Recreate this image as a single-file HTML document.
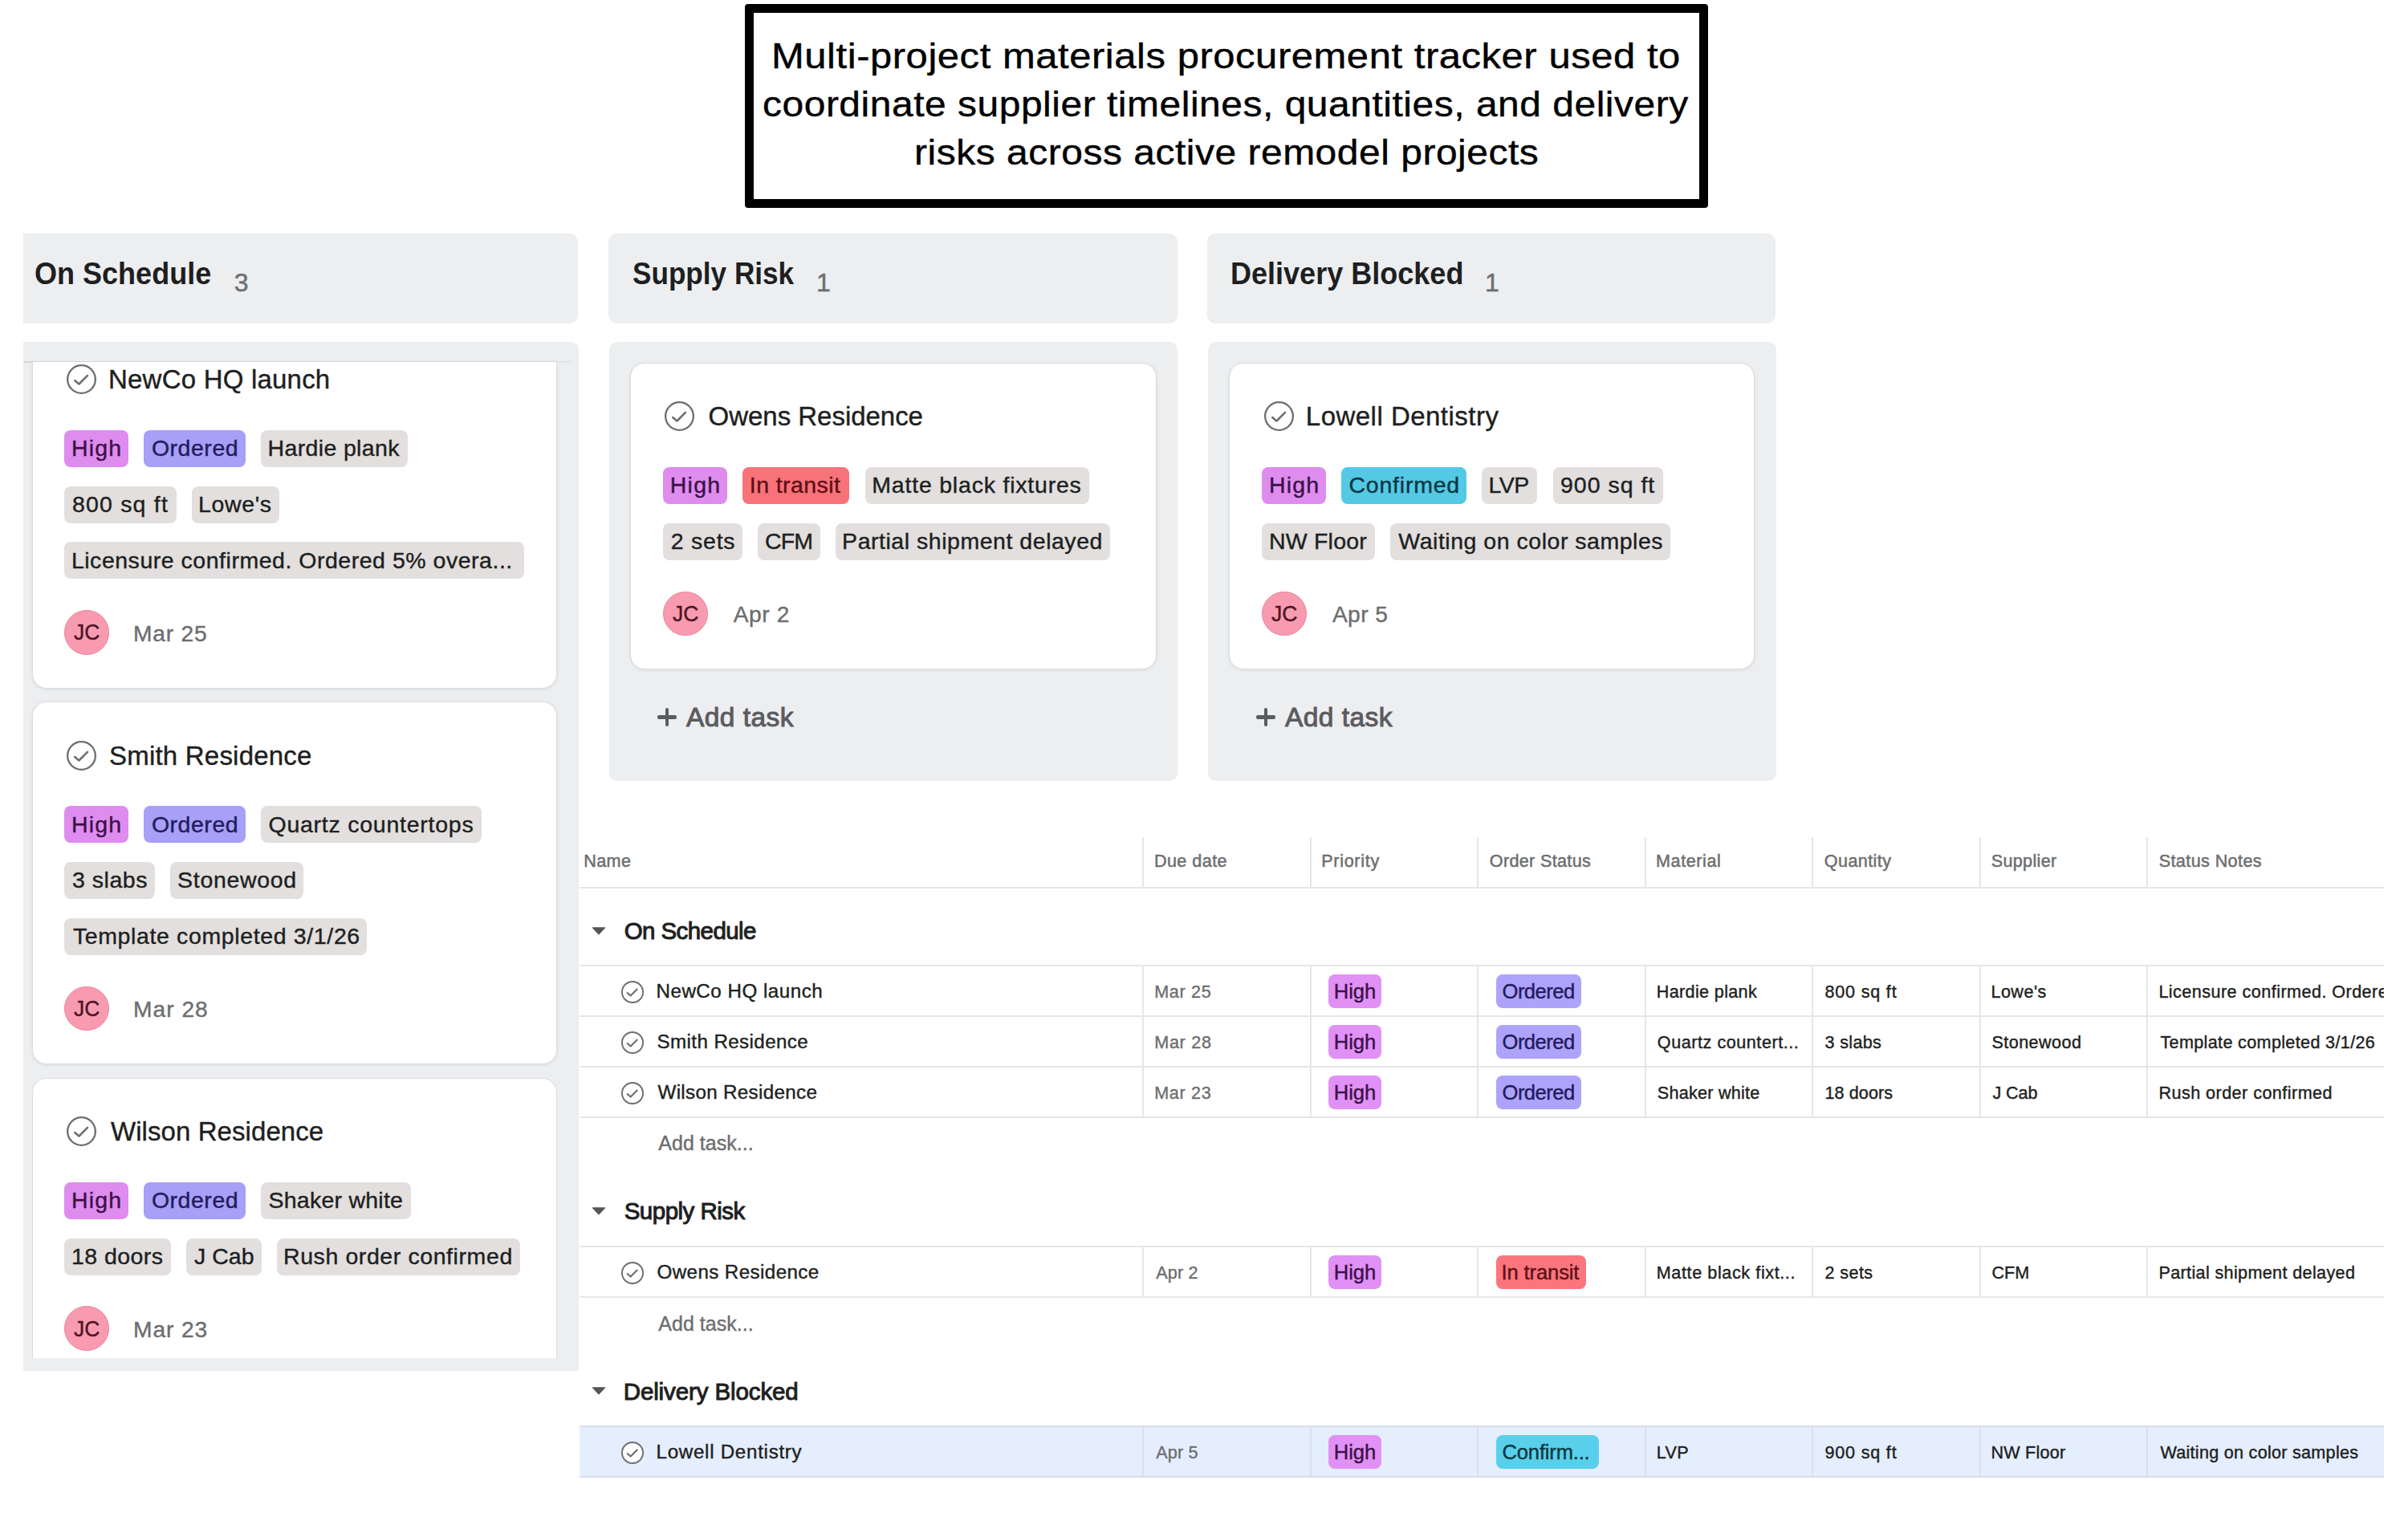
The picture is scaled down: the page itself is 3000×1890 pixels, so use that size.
<!DOCTYPE html>
<html><head><meta charset="utf-8"><title>Materials procurement tracker</title>
<style>
html,body{margin:0;padding:0;background:#fff;}
body{width:3000px;height:1890px;position:relative;overflow:hidden;font-family:'Liberation Sans',sans-serif;}
div,svg{font-family:'Liberation Sans',sans-serif;}
</style></head><body>
<div style="position:absolute;left:928px;top:4.9px;width:1200px;height:254.2px;box-sizing:border-box;border:11px solid #000;border-radius:4px;background:#fff"></div>
<div style="position:absolute;left:961.0px;top:48.1px;font-size:44.3px;line-height:44.3px;font-weight:400;color:#000;letter-spacing:0.50px;white-space:pre;transform:scaleX(1.1052);transform-origin:0 0;-webkit-text-stroke:0.4px #000;">Multi-project materials procurement tracker used to</div>
<div style="position:absolute;left:950.1px;top:107.8px;font-size:44.3px;line-height:44.3px;font-weight:400;color:#000;letter-spacing:0.50px;white-space:pre;transform:scaleX(1.0817);transform-origin:0 0;-webkit-text-stroke:0.4px #000;">coordinate supplier timelines, quantities, and delivery</div>
<div style="position:absolute;left:1139.0px;top:167.8px;font-size:44.3px;line-height:44.3px;font-weight:400;color:#000;letter-spacing:0.50px;white-space:pre;transform:scaleX(1.0816);transform-origin:0 0;-webkit-text-stroke:0.4px #000;">risks across active remodel projects</div>
<div style="position:absolute;left:29px;top:291px;width:691.0px;height:112px;background:#edeef0;border-radius:0 10px 10px 0"></div>
<div style="position:absolute;left:43.4px;top:320.6px;font-size:39px;line-height:39px;font-weight:700;color:#1e1f21;letter-spacing:0.00px;white-space:pre;transform:scaleX(0.9237);transform-origin:0 0;">On Schedule</div>
<div style="position:absolute;left:291.8px;top:335.8px;font-size:32px;line-height:32px;font-weight:400;color:#6d6e6f;letter-spacing:0.00px;white-space:pre;-webkit-text-stroke:0.5px #6d6e6f;">3</div>
<div style="position:absolute;left:29px;top:426px;width:692.0px;height:1281.5px;background:#edeef0;border-radius:0 10px 0 0"></div>
<div style="position:absolute;left:29.0px;top:450.0px;width:665.0px;height:1.6px;background:#d8d9db;border-radius:0px;"></div>
<div style="position:absolute;left:694.0px;top:450.0px;width:17.0px;height:1.6px;background:#e3e4e6;border-radius:0px;"></div>
<div style="position:absolute;left:39.8px;width:654.1px;box-sizing:border-box;background:#fff;border:1.5px solid #dcdcde;border-top:none;top:451px;height:406.79999999999995px;border-radius:0px 0px 18px 18px;box-shadow:0 1px 4px rgba(0,0,0,0.08);"></div>
<svg style="position:absolute;left:81.7px;top:453.1px" width="39.0" height="39.0" viewBox="-19.50 -19.50 39.00 39.00"><circle cx="0" cy="0" r="17.35" fill="#fff" stroke="#6d6e6f" stroke-width="2.3"/><path d="M-8.30 1.50 L-3.10 6.00 L7.50 -4.70" fill="none" stroke="#6d6e6f" stroke-width="2.53" stroke-linecap="round" stroke-linejoin="round"/></svg>
<div style="position:absolute;left:135.0px;top:456.2px;font-size:33px;line-height:33px;font-weight:400;color:#1e1f21;letter-spacing:0.21px;white-space:pre;-webkit-text-stroke:0.4px #1e1f21;">NewCo HQ launch</div>
<div style="position:absolute;left:80.4px;top:535.8px;width:79.6px;height:46.0px;background:#df8cef;border-radius:8px"></div>
<div style="position:absolute;left:88.9px;top:544.1px;font-size:28.5px;line-height:28.5px;font-weight:400;color:#3b1246;letter-spacing:1.20px;white-space:pre;-webkit-text-stroke:0.4px #3b1246;">High</div>
<div style="position:absolute;left:179.4px;top:535.8px;width:126.2px;height:46.0px;background:#a89ff7;border-radius:8px"></div>
<div style="position:absolute;left:188.9px;top:544.1px;font-size:28.5px;line-height:28.5px;font-weight:400;color:#221c5c;letter-spacing:0.53px;white-space:pre;-webkit-text-stroke:0.4px #221c5c;">Ordered</div>
<div style="position:absolute;left:325.0px;top:535.8px;width:183.0px;height:46.0px;background:#e2dfde;border-radius:8px"></div>
<div style="position:absolute;left:333.5px;top:544.1px;font-size:28.5px;line-height:28.5px;font-weight:400;color:#1e1f21;letter-spacing:0.36px;white-space:pre;-webkit-text-stroke:0.4px #1e1f21;">Hardie plank</div>
<div style="position:absolute;left:80.4px;top:605.6px;width:139.6px;height:46.0px;background:#e2dfde;border-radius:8px"></div>
<div style="position:absolute;left:89.9px;top:613.9px;font-size:28.5px;line-height:28.5px;font-weight:400;color:#1e1f21;letter-spacing:1.20px;white-space:pre;-webkit-text-stroke:0.4px #1e1f21;">800 sq ft</div>
<div style="position:absolute;left:238.5px;top:605.6px;width:109.3px;height:46.0px;background:#e2dfde;border-radius:8px"></div>
<div style="position:absolute;left:247.0px;top:613.9px;font-size:28.5px;line-height:28.5px;font-weight:400;color:#1e1f21;letter-spacing:0.66px;white-space:pre;-webkit-text-stroke:0.4px #1e1f21;">Lowe's</div>
<div style="position:absolute;left:80.4px;top:675.4px;width:572.6px;height:46.0px;background:#e2dfde;border-radius:8px"></div>
<div style="position:absolute;left:88.9px;top:683.7px;font-size:28.5px;line-height:28.5px;font-weight:400;color:#1e1f21;letter-spacing:0.52px;white-space:pre;-webkit-text-stroke:0.4px #1e1f21;">Licensure confirmed. Ordered 5% overa...</div>
<div style="position:absolute;left:80.4px;top:760.2px;width:55.5px;height:55.5px;box-sizing:border-box;background:#f99bb0;border:1.5px solid #e8839b;border-radius:50%"></div>
<div style="position:absolute;left:92.0px;top:773.4px;font-size:28.5px;line-height:28.5px;font-weight:400;color:#4b1624;letter-spacing:0.00px;white-space:pre;transform:scaleX(0.9294);transform-origin:0 0;-webkit-text-stroke:0.4px #4b1624;">JC</div>
<div style="position:absolute;left:166.1px;top:774.6px;font-size:28.2px;line-height:28.2px;font-weight:400;color:#6d6e6f;letter-spacing:0.78px;white-space:pre;-webkit-text-stroke:0.4px #6d6e6f;">Mar 25</div>
<div style="position:absolute;left:39.8px;width:654.1px;box-sizing:border-box;background:#fff;border:1.5px solid #dcdcde;top:874px;height:452.10000000000014px;border-radius:18px 18px 18px 18px;box-shadow:0 1px 4px rgba(0,0,0,0.08);"></div>
<svg style="position:absolute;left:81.7px;top:921.6px" width="39.0" height="39.0" viewBox="-19.50 -19.50 39.00 39.00"><circle cx="0" cy="0" r="17.35" fill="#fff" stroke="#6d6e6f" stroke-width="2.3"/><path d="M-8.30 1.50 L-3.10 6.00 L7.50 -4.70" fill="none" stroke="#6d6e6f" stroke-width="2.53" stroke-linecap="round" stroke-linejoin="round"/></svg>
<div style="position:absolute;left:136.0px;top:924.7px;font-size:33px;line-height:33px;font-weight:400;color:#1e1f21;letter-spacing:0.21px;white-space:pre;-webkit-text-stroke:0.4px #1e1f21;">Smith Residence</div>
<div style="position:absolute;left:80.4px;top:1004.3px;width:79.6px;height:46.0px;background:#df8cef;border-radius:8px"></div>
<div style="position:absolute;left:88.9px;top:1012.6px;font-size:28.5px;line-height:28.5px;font-weight:400;color:#3b1246;letter-spacing:1.20px;white-space:pre;-webkit-text-stroke:0.4px #3b1246;">High</div>
<div style="position:absolute;left:179.4px;top:1004.3px;width:126.2px;height:46.0px;background:#a89ff7;border-radius:8px"></div>
<div style="position:absolute;left:188.9px;top:1012.6px;font-size:28.5px;line-height:28.5px;font-weight:400;color:#221c5c;letter-spacing:0.53px;white-space:pre;-webkit-text-stroke:0.4px #221c5c;">Ordered</div>
<div style="position:absolute;left:325.0px;top:1004.3px;width:274.7px;height:46.0px;background:#e2dfde;border-radius:8px"></div>
<div style="position:absolute;left:334.5px;top:1012.6px;font-size:28.5px;line-height:28.5px;font-weight:400;color:#1e1f21;letter-spacing:0.75px;white-space:pre;-webkit-text-stroke:0.4px #1e1f21;">Quartz countertops</div>
<div style="position:absolute;left:80.4px;top:1074.1px;width:112.3px;height:46.0px;background:#e2dfde;border-radius:8px"></div>
<div style="position:absolute;left:89.9px;top:1082.4px;font-size:28.5px;line-height:28.5px;font-weight:400;color:#1e1f21;letter-spacing:0.55px;white-space:pre;-webkit-text-stroke:0.4px #1e1f21;">3 slabs</div>
<div style="position:absolute;left:211.6px;top:1074.1px;width:166.4px;height:46.0px;background:#e2dfde;border-radius:8px"></div>
<div style="position:absolute;left:221.1px;top:1082.4px;font-size:28.5px;line-height:28.5px;font-weight:400;color:#1e1f21;letter-spacing:0.68px;white-space:pre;-webkit-text-stroke:0.4px #1e1f21;">Stonewood</div>
<div style="position:absolute;left:80.4px;top:1143.9px;width:377.1px;height:46.0px;background:#e2dfde;border-radius:8px"></div>
<div style="position:absolute;left:90.9px;top:1152.2px;font-size:28.5px;line-height:28.5px;font-weight:400;color:#1e1f21;letter-spacing:0.63px;white-space:pre;-webkit-text-stroke:0.4px #1e1f21;">Template completed 3/1/26</div>
<div style="position:absolute;left:80.4px;top:1228.7px;width:55.5px;height:55.5px;box-sizing:border-box;background:#f99bb0;border:1.5px solid #e8839b;border-radius:50%"></div>
<div style="position:absolute;left:92.0px;top:1241.9px;font-size:28.5px;line-height:28.5px;font-weight:400;color:#4b1624;letter-spacing:0.00px;white-space:pre;transform:scaleX(0.9294);transform-origin:0 0;-webkit-text-stroke:0.4px #4b1624;">JC</div>
<div style="position:absolute;left:166.1px;top:1243.1px;font-size:28.2px;line-height:28.2px;font-weight:400;color:#6d6e6f;letter-spacing:0.98px;white-space:pre;-webkit-text-stroke:0.4px #6d6e6f;">Mar 28</div>
<div style="position:absolute;left:39.8px;width:654.1px;box-sizing:border-box;background:#fff;border:1.5px solid #dcdcde;border-bottom:none;top:1342.5px;height:349.5px;border-radius:18px 18px 0px 0px;box-shadow:none;"></div>
<svg style="position:absolute;left:81.7px;top:1390.1px" width="39.0" height="39.0" viewBox="-19.50 -19.50 39.00 39.00"><circle cx="0" cy="0" r="17.35" fill="#fff" stroke="#6d6e6f" stroke-width="2.3"/><path d="M-8.30 1.50 L-3.10 6.00 L7.50 -4.70" fill="none" stroke="#6d6e6f" stroke-width="2.53" stroke-linecap="round" stroke-linejoin="round"/></svg>
<div style="position:absolute;left:138.0px;top:1393.2px;font-size:33px;line-height:33px;font-weight:400;color:#1e1f21;letter-spacing:0.07px;white-space:pre;-webkit-text-stroke:0.4px #1e1f21;">Wilson Residence</div>
<div style="position:absolute;left:80.4px;top:1472.8px;width:79.6px;height:46.0px;background:#df8cef;border-radius:8px"></div>
<div style="position:absolute;left:88.9px;top:1481.1px;font-size:28.5px;line-height:28.5px;font-weight:400;color:#3b1246;letter-spacing:1.20px;white-space:pre;-webkit-text-stroke:0.4px #3b1246;">High</div>
<div style="position:absolute;left:179.4px;top:1472.8px;width:126.2px;height:46.0px;background:#a89ff7;border-radius:8px"></div>
<div style="position:absolute;left:188.9px;top:1481.1px;font-size:28.5px;line-height:28.5px;font-weight:400;color:#221c5c;letter-spacing:0.53px;white-space:pre;-webkit-text-stroke:0.4px #221c5c;">Ordered</div>
<div style="position:absolute;left:325.0px;top:1472.8px;width:186.6px;height:46.0px;background:#e2dfde;border-radius:8px"></div>
<div style="position:absolute;left:334.5px;top:1481.1px;font-size:28.5px;line-height:28.5px;font-weight:400;color:#1e1f21;letter-spacing:0.24px;white-space:pre;-webkit-text-stroke:0.4px #1e1f21;">Shaker white</div>
<div style="position:absolute;left:80.4px;top:1542.6px;width:132.2px;height:46.0px;background:#e2dfde;border-radius:8px"></div>
<div style="position:absolute;left:88.9px;top:1550.9px;font-size:28.5px;line-height:28.5px;font-weight:400;color:#1e1f21;letter-spacing:0.46px;white-space:pre;-webkit-text-stroke:0.4px #1e1f21;">18 doors</div>
<div style="position:absolute;left:231.6px;top:1542.6px;width:94.0px;height:46.0px;background:#e2dfde;border-radius:8px"></div>
<div style="position:absolute;left:242.1px;top:1550.9px;font-size:28.5px;line-height:28.5px;font-weight:400;color:#1e1f21;letter-spacing:0.00px;white-space:pre;-webkit-text-stroke:0.4px #1e1f21;">J Cab</div>
<div style="position:absolute;left:344.5px;top:1542.6px;width:303.3px;height:46.0px;background:#e2dfde;border-radius:8px"></div>
<div style="position:absolute;left:353.0px;top:1550.9px;font-size:28.5px;line-height:28.5px;font-weight:400;color:#1e1f21;letter-spacing:0.59px;white-space:pre;-webkit-text-stroke:0.4px #1e1f21;">Rush order confirmed</div>
<div style="position:absolute;left:80.4px;top:1627.4px;width:55.5px;height:55.5px;box-sizing:border-box;background:#f99bb0;border:1.5px solid #e8839b;border-radius:50%"></div>
<div style="position:absolute;left:92.0px;top:1640.6px;font-size:28.5px;line-height:28.5px;font-weight:400;color:#4b1624;letter-spacing:0.00px;white-space:pre;transform:scaleX(0.9294);transform-origin:0 0;-webkit-text-stroke:0.4px #4b1624;">JC</div>
<div style="position:absolute;left:166.1px;top:1641.8px;font-size:28.2px;line-height:28.2px;font-weight:400;color:#6d6e6f;letter-spacing:0.88px;white-space:pre;-webkit-text-stroke:0.4px #6d6e6f;">Mar 23</div>
<div style="position:absolute;left:758.3px;top:291px;width:708.3px;height:112px;background:#edeef0;border-radius:10px"></div>
<div style="position:absolute;left:788.1px;top:320.6px;font-size:39px;line-height:39px;font-weight:700;color:#1e1f21;letter-spacing:0.00px;white-space:pre;transform:scaleX(0.9009);transform-origin:0 0;">Supply Risk</div>
<div style="position:absolute;left:1017.0px;top:335.8px;font-size:32px;line-height:32px;font-weight:400;color:#6d6e6f;letter-spacing:0.00px;white-space:pre;-webkit-text-stroke:0.5px #6d6e6f;">1</div>
<div style="position:absolute;left:758.8px;top:426px;width:708.4000000000001px;height:547px;background:#edeef0;border-radius:10px"></div>
<div style="position:absolute;left:784.7px;width:655.8999999999999px;box-sizing:border-box;background:#fff;border:1.5px solid #dcdcde;top:451.7px;height:382.59999999999997px;border-radius:18px 18px 18px 18px;box-shadow:0 1px 4px rgba(0,0,0,0.08);"></div>
<svg style="position:absolute;left:827.3px;top:499.3px" width="39.0" height="39.0" viewBox="-19.50 -19.50 39.00 39.00"><circle cx="0" cy="0" r="17.35" fill="#fff" stroke="#6d6e6f" stroke-width="2.3"/><path d="M-8.30 1.50 L-3.10 6.00 L7.50 -4.70" fill="none" stroke="#6d6e6f" stroke-width="2.53" stroke-linecap="round" stroke-linejoin="round"/></svg>
<div style="position:absolute;left:882.6px;top:502.4px;font-size:33px;line-height:33px;font-weight:400;color:#1e1f21;letter-spacing:-0.03px;white-space:pre;-webkit-text-stroke:0.4px #1e1f21;">Owens Residence</div>
<div style="position:absolute;left:826.3px;top:582.0px;width:79.7px;height:46.0px;background:#df8cef;border-radius:8px"></div>
<div style="position:absolute;left:834.8px;top:590.3px;font-size:28.5px;line-height:28.5px;font-weight:400;color:#3b1246;letter-spacing:1.23px;white-space:pre;-webkit-text-stroke:0.4px #3b1246;">High</div>
<div style="position:absolute;left:925.3px;top:582.0px;width:132.9px;height:46.0px;background:#f8727a;border-radius:8px"></div>
<div style="position:absolute;left:933.8px;top:590.3px;font-size:28.5px;line-height:28.5px;font-weight:400;color:#5c1016;letter-spacing:0.43px;white-space:pre;-webkit-text-stroke:0.4px #5c1016;">In transit</div>
<div style="position:absolute;left:1077.8px;top:582.0px;width:279.1px;height:46.0px;background:#e2dfde;border-radius:8px"></div>
<div style="position:absolute;left:1086.3px;top:590.3px;font-size:28.5px;line-height:28.5px;font-weight:400;color:#1e1f21;letter-spacing:0.79px;white-space:pre;-webkit-text-stroke:0.4px #1e1f21;">Matte black fixtures</div>
<div style="position:absolute;left:826.3px;top:651.8px;width:98.7px;height:46.0px;background:#e2dfde;border-radius:8px"></div>
<div style="position:absolute;left:835.8px;top:660.1px;font-size:28.5px;line-height:28.5px;font-weight:400;color:#1e1f21;letter-spacing:0.74px;white-space:pre;-webkit-text-stroke:0.4px #1e1f21;">2 sets</div>
<div style="position:absolute;left:943.6px;top:651.8px;width:78.1px;height:46.0px;background:#e2dfde;border-radius:8px"></div>
<div style="position:absolute;left:953.1px;top:660.1px;font-size:28.5px;line-height:28.5px;font-weight:400;color:#1e1f21;letter-spacing:-0.95px;white-space:pre;-webkit-text-stroke:0.4px #1e1f21;">CFM</div>
<div style="position:absolute;left:1040.6px;top:651.8px;width:342.2px;height:46.0px;background:#e2dfde;border-radius:8px"></div>
<div style="position:absolute;left:1049.1px;top:660.1px;font-size:28.5px;line-height:28.5px;font-weight:400;color:#1e1f21;letter-spacing:0.53px;white-space:pre;-webkit-text-stroke:0.4px #1e1f21;">Partial shipment delayed</div>
<div style="position:absolute;left:826.0px;top:736.6px;width:55.5px;height:55.5px;box-sizing:border-box;background:#f99bb0;border:1.5px solid #e8839b;border-radius:50%"></div>
<div style="position:absolute;left:837.6px;top:749.8px;font-size:28.5px;line-height:28.5px;font-weight:400;color:#4b1624;letter-spacing:0.00px;white-space:pre;transform:scaleX(0.9294);transform-origin:0 0;-webkit-text-stroke:0.4px #4b1624;">JC</div>
<div style="position:absolute;left:913.7px;top:751.0px;font-size:28.2px;line-height:28.2px;font-weight:400;color:#6d6e6f;letter-spacing:0.57px;white-space:pre;-webkit-text-stroke:0.4px #6d6e6f;">Apr 2</div>
<div style="position:absolute;left:819.4px;top:891.4px;width:23.2px;height:4.5px;background:#5b5c5f;border-radius:2px;"></div>
<div style="position:absolute;left:828.8px;top:882.1px;width:4.5px;height:23.2px;background:#5b5c5f;border-radius:2px;"></div>
<div style="position:absolute;left:854.9px;top:876.6px;font-size:33.5px;line-height:33.5px;font-weight:400;color:#5b5c5f;letter-spacing:0.47px;white-space:pre;-webkit-text-stroke:1.0px #5b5c5f;">Add task</div>
<div style="position:absolute;left:1504.2px;top:291px;width:707.8px;height:112px;background:#edeef0;border-radius:10px"></div>
<div style="position:absolute;left:1533.0px;top:320.6px;font-size:39px;line-height:39px;font-weight:700;color:#1e1f21;letter-spacing:0.00px;white-space:pre;transform:scaleX(0.9239);transform-origin:0 0;">Delivery Blocked</div>
<div style="position:absolute;left:1850.0px;top:335.8px;font-size:32px;line-height:32px;font-weight:400;color:#6d6e6f;letter-spacing:0.00px;white-space:pre;-webkit-text-stroke:0.5px #6d6e6f;">1</div>
<div style="position:absolute;left:1504.6px;top:426px;width:708.5999999999999px;height:547px;background:#edeef0;border-radius:10px"></div>
<div style="position:absolute;left:1530.9px;width:655.0px;box-sizing:border-box;background:#fff;border:1.5px solid #dcdcde;top:451.7px;height:382.59999999999997px;border-radius:18px 18px 18px 18px;box-shadow:0 1px 4px rgba(0,0,0,0.08);"></div>
<svg style="position:absolute;left:1573.5px;top:499.3px" width="39.0" height="39.0" viewBox="-19.50 -19.50 39.00 39.00"><circle cx="0" cy="0" r="17.35" fill="#fff" stroke="#6d6e6f" stroke-width="2.3"/><path d="M-8.30 1.50 L-3.10 6.00 L7.50 -4.70" fill="none" stroke="#6d6e6f" stroke-width="2.53" stroke-linecap="round" stroke-linejoin="round"/></svg>
<div style="position:absolute;left:1626.8px;top:502.4px;font-size:33px;line-height:33px;font-weight:400;color:#1e1f21;letter-spacing:0.48px;white-space:pre;-webkit-text-stroke:0.4px #1e1f21;">Lowell Dentistry</div>
<div style="position:absolute;left:1572.4px;top:582.0px;width:79.6px;height:46.0px;background:#df8cef;border-radius:8px"></div>
<div style="position:absolute;left:1580.9px;top:590.3px;font-size:28.5px;line-height:28.5px;font-weight:400;color:#3b1246;letter-spacing:1.20px;white-space:pre;-webkit-text-stroke:0.4px #3b1246;">High</div>
<div style="position:absolute;left:1671.0px;top:582.0px;width:156.2px;height:46.0px;background:#53c9e5;border-radius:8px"></div>
<div style="position:absolute;left:1680.5px;top:590.3px;font-size:28.5px;line-height:28.5px;font-weight:400;color:#0b3641;letter-spacing:0.78px;white-space:pre;-webkit-text-stroke:0.4px #0b3641;">Confirmed</div>
<div style="position:absolute;left:1846.0px;top:582.0px;width:69.0px;height:46.0px;background:#e2dfde;border-radius:8px"></div>
<div style="position:absolute;left:1854.5px;top:590.3px;font-size:28.5px;line-height:28.5px;font-weight:400;color:#1e1f21;letter-spacing:-0.50px;white-space:pre;-webkit-text-stroke:0.4px #1e1f21;">LVP</div>
<div style="position:absolute;left:1934.5px;top:582.0px;width:137.9px;height:46.0px;background:#e2dfde;border-radius:8px"></div>
<div style="position:absolute;left:1944.0px;top:590.3px;font-size:28.5px;line-height:28.5px;font-weight:400;color:#1e1f21;letter-spacing:0.99px;white-space:pre;-webkit-text-stroke:0.4px #1e1f21;">900 sq ft</div>
<div style="position:absolute;left:1572.4px;top:651.8px;width:140.6px;height:46.0px;background:#e2dfde;border-radius:8px"></div>
<div style="position:absolute;left:1580.9px;top:660.1px;font-size:28.5px;line-height:28.5px;font-weight:400;color:#1e1f21;letter-spacing:0.23px;white-space:pre;-webkit-text-stroke:0.4px #1e1f21;">NW Floor</div>
<div style="position:absolute;left:1731.8px;top:651.8px;width:348.9px;height:46.0px;background:#e2dfde;border-radius:8px"></div>
<div style="position:absolute;left:1742.3px;top:660.1px;font-size:28.5px;line-height:28.5px;font-weight:400;color:#1e1f21;letter-spacing:0.52px;white-space:pre;-webkit-text-stroke:0.4px #1e1f21;">Waiting on color samples</div>
<div style="position:absolute;left:1572.2px;top:736.6px;width:55.5px;height:55.5px;box-sizing:border-box;background:#f99bb0;border:1.5px solid #e8839b;border-radius:50%"></div>
<div style="position:absolute;left:1583.8px;top:749.8px;font-size:28.5px;line-height:28.5px;font-weight:400;color:#4b1624;letter-spacing:0.00px;white-space:pre;transform:scaleX(0.9294);transform-origin:0 0;-webkit-text-stroke:0.4px #4b1624;">JC</div>
<div style="position:absolute;left:1659.9px;top:751.0px;font-size:28.2px;line-height:28.2px;font-weight:400;color:#6d6e6f;letter-spacing:0.40px;white-space:pre;-webkit-text-stroke:0.4px #6d6e6f;">Apr 5</div>
<div style="position:absolute;left:1565.4px;top:891.4px;width:23.2px;height:4.5px;background:#5b5c5f;border-radius:2px;"></div>
<div style="position:absolute;left:1574.8px;top:882.1px;width:4.5px;height:23.2px;background:#5b5c5f;border-radius:2px;"></div>
<div style="position:absolute;left:1600.9px;top:876.6px;font-size:33.5px;line-height:33.5px;font-weight:400;color:#5b5c5f;letter-spacing:0.47px;white-space:pre;-webkit-text-stroke:1.0px #5b5c5f;">Add task</div>
<div style="position:absolute;left:722.3px;top:1010.0px;width:2277.7px;height:880.0px;background:#fff;border-radius:0px;"></div>
<div style="position:absolute;left:722.3px;top:1105.0px;width:2247.5px;height:2.0px;background:#e6e6e9;border-radius:0px;"></div>
<div style="position:absolute;left:1423.0px;top:1043.0px;width:2.0px;height:62.0px;background:#e6e6e9;border-radius:0px;"></div>
<div style="position:absolute;left:1632.0px;top:1043.0px;width:2.0px;height:62.0px;background:#e6e6e9;border-radius:0px;"></div>
<div style="position:absolute;left:1840.0px;top:1043.0px;width:2.0px;height:62.0px;background:#e6e6e9;border-radius:0px;"></div>
<div style="position:absolute;left:2049.0px;top:1043.0px;width:2.0px;height:62.0px;background:#e6e6e9;border-radius:0px;"></div>
<div style="position:absolute;left:2257.0px;top:1043.0px;width:2.0px;height:62.0px;background:#e6e6e9;border-radius:0px;"></div>
<div style="position:absolute;left:2466.0px;top:1043.0px;width:2.0px;height:62.0px;background:#e6e6e9;border-radius:0px;"></div>
<div style="position:absolute;left:2674.0px;top:1043.0px;width:2.0px;height:62.0px;background:#e6e6e9;border-radius:0px;"></div>
<div style="position:absolute;left:727.2px;top:1062.3px;font-size:21.6px;line-height:21.6px;font-weight:400;color:#6d6e6f;letter-spacing:0.40px;white-space:pre;-webkit-text-stroke:0.5px #6d6e6f;">Name</div>
<div style="position:absolute;left:1437.9px;top:1062.3px;font-size:21.6px;line-height:21.6px;font-weight:400;color:#6d6e6f;letter-spacing:0.44px;white-space:pre;-webkit-text-stroke:0.5px #6d6e6f;">Due date</div>
<div style="position:absolute;left:1646.2px;top:1062.3px;font-size:21.6px;line-height:21.6px;font-weight:400;color:#6d6e6f;letter-spacing:0.69px;white-space:pre;-webkit-text-stroke:0.5px #6d6e6f;">Priority</div>
<div style="position:absolute;left:1855.8px;top:1062.3px;font-size:21.6px;line-height:21.6px;font-weight:400;color:#6d6e6f;letter-spacing:0.33px;white-space:pre;-webkit-text-stroke:0.5px #6d6e6f;">Order Status</div>
<div style="position:absolute;left:2063.0px;top:1062.3px;font-size:21.6px;line-height:21.6px;font-weight:400;color:#6d6e6f;letter-spacing:0.57px;white-space:pre;-webkit-text-stroke:0.5px #6d6e6f;">Material</div>
<div style="position:absolute;left:2272.8px;top:1062.3px;font-size:21.6px;line-height:21.6px;font-weight:400;color:#6d6e6f;letter-spacing:0.39px;white-space:pre;-webkit-text-stroke:0.5px #6d6e6f;">Quantity</div>
<div style="position:absolute;left:2480.7px;top:1062.3px;font-size:21.6px;line-height:21.6px;font-weight:400;color:#6d6e6f;letter-spacing:0.33px;white-space:pre;-webkit-text-stroke:0.5px #6d6e6f;">Supplier</div>
<div style="position:absolute;left:2689.7px;top:1062.3px;font-size:21.6px;line-height:21.6px;font-weight:400;color:#6d6e6f;letter-spacing:0.39px;white-space:pre;-webkit-text-stroke:0.5px #6d6e6f;">Status Notes</div>
<svg style="position:absolute;left:737px;top:1154.5px" width="18" height="11" viewBox="0 0 18 11"><path d="M1.2 0.8 L16.8 0.8 L9 9.2 Z" fill="#55565a" stroke="#55565a" stroke-width="1" stroke-linejoin="round"/></svg>
<div style="position:absolute;left:777.7px;top:1144.8px;font-size:29.5px;line-height:29.5px;font-weight:400;color:#1e1f21;letter-spacing:-0.58px;white-space:pre;-webkit-text-stroke:1.0px #1e1f21;">On Schedule</div>
<div style="position:absolute;left:722.3px;top:1202.0px;width:2247.5px;height:2.0px;background:#e6e6e9;border-radius:0px;"></div>
<div style="position:absolute;left:722.3px;top:1265.0px;width:2247.5px;height:2.0px;background:#e6e6e9;border-radius:0px;"></div>
<div style="position:absolute;left:1423.0px;top:1203.4px;width:2.0px;height:62.9px;background:#e6e6e9;border-radius:0px;"></div>
<div style="position:absolute;left:1632.0px;top:1203.4px;width:2.0px;height:62.9px;background:#e6e6e9;border-radius:0px;"></div>
<div style="position:absolute;left:1840.0px;top:1203.4px;width:2.0px;height:62.9px;background:#e6e6e9;border-radius:0px;"></div>
<div style="position:absolute;left:2049.0px;top:1203.4px;width:2.0px;height:62.9px;background:#e6e6e9;border-radius:0px;"></div>
<div style="position:absolute;left:2257.0px;top:1203.4px;width:2.0px;height:62.9px;background:#e6e6e9;border-radius:0px;"></div>
<div style="position:absolute;left:2466.0px;top:1203.4px;width:2.0px;height:62.9px;background:#e6e6e9;border-radius:0px;"></div>
<div style="position:absolute;left:2674.0px;top:1203.4px;width:2.0px;height:62.9px;background:#e6e6e9;border-radius:0px;"></div>
<svg style="position:absolute;left:773.0px;top:1220.8px" width="30.0" height="30.0" viewBox="-15.00 -15.00 30.00 30.00"><circle cx="0" cy="0" r="13.05" fill="#fff" stroke="#6d6e6f" stroke-width="1.9"/><path d="M-6.28 1.14 L-2.35 4.54 L5.68 -3.56" fill="none" stroke="#6d6e6f" stroke-width="2.09" stroke-linecap="round" stroke-linejoin="round"/></svg>
<div style="position:absolute;left:817.5px;top:1223.0px;font-size:24.2px;line-height:24.2px;font-weight:400;color:#1e1f21;letter-spacing:0.49px;white-space:pre;-webkit-text-stroke:0.4px #1e1f21;">NewCo HQ launch</div>
<div style="position:absolute;left:1438.2px;top:1225.1px;font-size:21.6px;line-height:21.6px;font-weight:400;color:#6d6e6f;letter-spacing:0.66px;white-space:pre;-webkit-text-stroke:0.4px #6d6e6f;">Mar 25</div>
<div style="position:absolute;left:1654.8px;top:1214.4px;width:66.0px;height:41.3px;background:#e190f5;border-radius:8px;"></div>
<div style="position:absolute;left:1661.8px;top:1222.7px;font-size:25.6px;line-height:25.6px;font-weight:400;color:#3b1246;letter-spacing:-0.07px;white-space:pre;-webkit-text-stroke:0.4px #3b1246;">High</div>
<div style="position:absolute;left:1863.5px;top:1214.4px;width:106.0px;height:41.3px;background:#aea3fb;border-radius:8px;"></div>
<div style="position:absolute;left:1871.5px;top:1222.7px;font-size:25.6px;line-height:25.6px;font-weight:400;color:#221c5c;letter-spacing:-0.53px;white-space:pre;-webkit-text-stroke:0.4px #221c5c;">Ordered</div>
<div style="position:absolute;left:2063.8px;top:1225.1px;font-size:21.6px;line-height:21.6px;font-weight:400;color:#1e1f21;letter-spacing:0.34px;white-space:pre;-webkit-text-stroke:0.4px #1e1f21;">Hardie plank</div>
<div style="position:absolute;left:2273.5px;top:1225.1px;font-size:21.6px;line-height:21.6px;font-weight:400;color:#1e1f21;letter-spacing:0.79px;white-space:pre;-webkit-text-stroke:0.4px #1e1f21;">800 sq ft</div>
<div style="position:absolute;left:2480.4px;top:1225.1px;font-size:21.6px;line-height:21.6px;font-weight:400;color:#1e1f21;letter-spacing:0.48px;white-space:pre;-webkit-text-stroke:0.4px #1e1f21;">Lowe's</div>
<div style="position:absolute;left:2689.4px;top:1225.1px;font-size:21.6px;line-height:21.6px;font-weight:400;color:#1e1f21;letter-spacing:0.45px;white-space:pre;-webkit-text-stroke:0.4px #1e1f21;width:281.1px;overflow:hidden;">Licensure confirmed. Ordered 5% overage</div>
<div style="position:absolute;left:722.3px;top:1265.0px;width:2247.5px;height:2.0px;background:#e6e6e9;border-radius:0px;"></div>
<div style="position:absolute;left:722.3px;top:1328.0px;width:2247.5px;height:2.0px;background:#e6e6e9;border-radius:0px;"></div>
<div style="position:absolute;left:1423.0px;top:1266.3px;width:2.0px;height:62.9px;background:#e6e6e9;border-radius:0px;"></div>
<div style="position:absolute;left:1632.0px;top:1266.3px;width:2.0px;height:62.9px;background:#e6e6e9;border-radius:0px;"></div>
<div style="position:absolute;left:1840.0px;top:1266.3px;width:2.0px;height:62.9px;background:#e6e6e9;border-radius:0px;"></div>
<div style="position:absolute;left:2049.0px;top:1266.3px;width:2.0px;height:62.9px;background:#e6e6e9;border-radius:0px;"></div>
<div style="position:absolute;left:2257.0px;top:1266.3px;width:2.0px;height:62.9px;background:#e6e6e9;border-radius:0px;"></div>
<div style="position:absolute;left:2466.0px;top:1266.3px;width:2.0px;height:62.9px;background:#e6e6e9;border-radius:0px;"></div>
<div style="position:absolute;left:2674.0px;top:1266.3px;width:2.0px;height:62.9px;background:#e6e6e9;border-radius:0px;"></div>
<svg style="position:absolute;left:773.0px;top:1283.8px" width="30.0" height="30.0" viewBox="-15.00 -15.00 30.00 30.00"><circle cx="0" cy="0" r="13.05" fill="#fff" stroke="#6d6e6f" stroke-width="1.9"/><path d="M-6.28 1.14 L-2.35 4.54 L5.68 -3.56" fill="none" stroke="#6d6e6f" stroke-width="2.09" stroke-linecap="round" stroke-linejoin="round"/></svg>
<div style="position:absolute;left:818.5px;top:1285.9px;font-size:24.2px;line-height:24.2px;font-weight:400;color:#1e1f21;letter-spacing:0.39px;white-space:pre;-webkit-text-stroke:0.4px #1e1f21;">Smith Residence</div>
<div style="position:absolute;left:1438.2px;top:1288.0px;font-size:21.6px;line-height:21.6px;font-weight:400;color:#6d6e6f;letter-spacing:0.72px;white-space:pre;-webkit-text-stroke:0.4px #6d6e6f;">Mar 28</div>
<div style="position:absolute;left:1654.8px;top:1277.3px;width:66.0px;height:41.3px;background:#e190f5;border-radius:8px;"></div>
<div style="position:absolute;left:1661.8px;top:1285.6px;font-size:25.6px;line-height:25.6px;font-weight:400;color:#3b1246;letter-spacing:-0.07px;white-space:pre;-webkit-text-stroke:0.4px #3b1246;">High</div>
<div style="position:absolute;left:1863.5px;top:1277.3px;width:106.0px;height:41.3px;background:#aea3fb;border-radius:8px;"></div>
<div style="position:absolute;left:1871.5px;top:1285.6px;font-size:25.6px;line-height:25.6px;font-weight:400;color:#221c5c;letter-spacing:-0.53px;white-space:pre;-webkit-text-stroke:0.4px #221c5c;">Ordered</div>
<div style="position:absolute;left:2064.8px;top:1288.0px;font-size:21.6px;line-height:21.6px;font-weight:400;color:#1e1f21;letter-spacing:0.54px;white-space:pre;-webkit-text-stroke:0.4px #1e1f21;">Quartz countert...</div>
<div style="position:absolute;left:2273.5px;top:1288.0px;font-size:21.6px;line-height:21.6px;font-weight:400;color:#1e1f21;letter-spacing:0.33px;white-space:pre;-webkit-text-stroke:0.4px #1e1f21;">3 slabs</div>
<div style="position:absolute;left:2481.4px;top:1288.0px;font-size:21.6px;line-height:21.6px;font-weight:400;color:#1e1f21;letter-spacing:0.45px;white-space:pre;-webkit-text-stroke:0.4px #1e1f21;">Stonewood</div>
<div style="position:absolute;left:2691.4px;top:1288.0px;font-size:21.6px;line-height:21.6px;font-weight:400;color:#1e1f21;letter-spacing:0.34px;white-space:pre;-webkit-text-stroke:0.4px #1e1f21;">Template completed 3/1/26</div>
<div style="position:absolute;left:722.3px;top:1328.0px;width:2247.5px;height:2.0px;background:#e6e6e9;border-radius:0px;"></div>
<div style="position:absolute;left:722.3px;top:1391.0px;width:2247.5px;height:2.0px;background:#e6e6e9;border-radius:0px;"></div>
<div style="position:absolute;left:1423.0px;top:1329.2px;width:2.0px;height:63.0px;background:#e6e6e9;border-radius:0px;"></div>
<div style="position:absolute;left:1632.0px;top:1329.2px;width:2.0px;height:63.0px;background:#e6e6e9;border-radius:0px;"></div>
<div style="position:absolute;left:1840.0px;top:1329.2px;width:2.0px;height:63.0px;background:#e6e6e9;border-radius:0px;"></div>
<div style="position:absolute;left:2049.0px;top:1329.2px;width:2.0px;height:63.0px;background:#e6e6e9;border-radius:0px;"></div>
<div style="position:absolute;left:2257.0px;top:1329.2px;width:2.0px;height:63.0px;background:#e6e6e9;border-radius:0px;"></div>
<div style="position:absolute;left:2466.0px;top:1329.2px;width:2.0px;height:63.0px;background:#e6e6e9;border-radius:0px;"></div>
<div style="position:absolute;left:2674.0px;top:1329.2px;width:2.0px;height:63.0px;background:#e6e6e9;border-radius:0px;"></div>
<svg style="position:absolute;left:773.0px;top:1346.7px" width="30.0" height="30.0" viewBox="-15.00 -15.00 30.00 30.00"><circle cx="0" cy="0" r="13.05" fill="#fff" stroke="#6d6e6f" stroke-width="1.9"/><path d="M-6.28 1.14 L-2.35 4.54 L5.68 -3.56" fill="none" stroke="#6d6e6f" stroke-width="2.09" stroke-linecap="round" stroke-linejoin="round"/></svg>
<div style="position:absolute;left:819.5px;top:1348.9px;font-size:24.2px;line-height:24.2px;font-weight:400;color:#1e1f21;letter-spacing:0.32px;white-space:pre;-webkit-text-stroke:0.4px #1e1f21;">Wilson Residence</div>
<div style="position:absolute;left:1438.2px;top:1351.0px;font-size:21.6px;line-height:21.6px;font-weight:400;color:#6d6e6f;letter-spacing:0.66px;white-space:pre;-webkit-text-stroke:0.4px #6d6e6f;">Mar 23</div>
<div style="position:absolute;left:1654.8px;top:1340.3px;width:66.0px;height:41.3px;background:#e190f5;border-radius:8px;"></div>
<div style="position:absolute;left:1661.8px;top:1348.6px;font-size:25.6px;line-height:25.6px;font-weight:400;color:#3b1246;letter-spacing:-0.07px;white-space:pre;-webkit-text-stroke:0.4px #3b1246;">High</div>
<div style="position:absolute;left:1863.5px;top:1340.3px;width:106.0px;height:41.3px;background:#aea3fb;border-radius:8px;"></div>
<div style="position:absolute;left:1871.5px;top:1348.6px;font-size:25.6px;line-height:25.6px;font-weight:400;color:#221c5c;letter-spacing:-0.53px;white-space:pre;-webkit-text-stroke:0.4px #221c5c;">Ordered</div>
<div style="position:absolute;left:2064.8px;top:1351.0px;font-size:21.6px;line-height:21.6px;font-weight:400;color:#1e1f21;letter-spacing:0.25px;white-space:pre;-webkit-text-stroke:0.4px #1e1f21;">Shaker white</div>
<div style="position:absolute;left:2273.5px;top:1351.0px;font-size:21.6px;line-height:21.6px;font-weight:400;color:#1e1f21;letter-spacing:0.07px;white-space:pre;-webkit-text-stroke:0.4px #1e1f21;">18 doors</div>
<div style="position:absolute;left:2482.4px;top:1351.0px;font-size:21.6px;line-height:21.6px;font-weight:400;color:#1e1f21;letter-spacing:-0.10px;white-space:pre;-webkit-text-stroke:0.4px #1e1f21;">J Cab</div>
<div style="position:absolute;left:2689.4px;top:1351.0px;font-size:21.6px;line-height:21.6px;font-weight:400;color:#1e1f21;letter-spacing:0.45px;white-space:pre;-webkit-text-stroke:0.4px #1e1f21;">Rush order confirmed</div>
<div style="position:absolute;left:820.3px;top:1412.4px;font-size:25px;line-height:25px;font-weight:400;color:#6d6e6f;letter-spacing:0.02px;white-space:pre;-webkit-text-stroke:0.4px #6d6e6f;">Add task...</div>
<svg style="position:absolute;left:737px;top:1504.0px" width="18" height="11" viewBox="0 0 18 11"><path d="M1.2 0.8 L16.8 0.8 L9 9.2 Z" fill="#55565a" stroke="#55565a" stroke-width="1" stroke-linejoin="round"/></svg>
<div style="position:absolute;left:777.7px;top:1494.3px;font-size:29.5px;line-height:29.5px;font-weight:400;color:#1e1f21;letter-spacing:-0.51px;white-space:pre;-webkit-text-stroke:1.0px #1e1f21;">Supply Risk</div>
<div style="position:absolute;left:722.3px;top:1552.0px;width:2247.5px;height:2.0px;background:#e6e6e9;border-radius:0px;"></div>
<div style="position:absolute;left:722.3px;top:1615.0px;width:2247.5px;height:2.0px;background:#e6e6e9;border-radius:0px;"></div>
<div style="position:absolute;left:1423.0px;top:1553.3px;width:2.0px;height:62.8px;background:#e6e6e9;border-radius:0px;"></div>
<div style="position:absolute;left:1632.0px;top:1553.3px;width:2.0px;height:62.8px;background:#e6e6e9;border-radius:0px;"></div>
<div style="position:absolute;left:1840.0px;top:1553.3px;width:2.0px;height:62.8px;background:#e6e6e9;border-radius:0px;"></div>
<div style="position:absolute;left:2049.0px;top:1553.3px;width:2.0px;height:62.8px;background:#e6e6e9;border-radius:0px;"></div>
<div style="position:absolute;left:2257.0px;top:1553.3px;width:2.0px;height:62.8px;background:#e6e6e9;border-radius:0px;"></div>
<div style="position:absolute;left:2466.0px;top:1553.3px;width:2.0px;height:62.8px;background:#e6e6e9;border-radius:0px;"></div>
<div style="position:absolute;left:2674.0px;top:1553.3px;width:2.0px;height:62.8px;background:#e6e6e9;border-radius:0px;"></div>
<svg style="position:absolute;left:773.0px;top:1570.7px" width="30.0" height="30.0" viewBox="-15.00 -15.00 30.00 30.00"><circle cx="0" cy="0" r="13.05" fill="#fff" stroke="#6d6e6f" stroke-width="1.9"/><path d="M-6.28 1.14 L-2.35 4.54 L5.68 -3.56" fill="none" stroke="#6d6e6f" stroke-width="2.09" stroke-linecap="round" stroke-linejoin="round"/></svg>
<div style="position:absolute;left:818.5px;top:1572.9px;font-size:24.2px;line-height:24.2px;font-weight:400;color:#1e1f21;letter-spacing:0.39px;white-space:pre;-webkit-text-stroke:0.4px #1e1f21;">Owens Residence</div>
<div style="position:absolute;left:1440.2px;top:1575.0px;font-size:21.6px;line-height:21.6px;font-weight:400;color:#6d6e6f;letter-spacing:0.20px;white-space:pre;-webkit-text-stroke:0.4px #6d6e6f;">Apr 2</div>
<div style="position:absolute;left:1654.8px;top:1564.3px;width:66.0px;height:41.3px;background:#e190f5;border-radius:8px;"></div>
<div style="position:absolute;left:1661.8px;top:1572.6px;font-size:25.6px;line-height:25.6px;font-weight:400;color:#3b1246;letter-spacing:-0.07px;white-space:pre;-webkit-text-stroke:0.4px #3b1246;">High</div>
<div style="position:absolute;left:1863.5px;top:1564.3px;width:112.0px;height:41.3px;background:#fb757d;border-radius:8px;"></div>
<div style="position:absolute;left:1870.5px;top:1572.6px;font-size:25.6px;line-height:25.6px;font-weight:400;color:#5c1016;letter-spacing:-0.13px;white-space:pre;-webkit-text-stroke:0.4px #5c1016;">In transit</div>
<div style="position:absolute;left:2063.8px;top:1575.0px;font-size:21.6px;line-height:21.6px;font-weight:400;color:#1e1f21;letter-spacing:0.59px;white-space:pre;-webkit-text-stroke:0.4px #1e1f21;">Matte black fixt...</div>
<div style="position:absolute;left:2273.5px;top:1575.0px;font-size:21.6px;line-height:21.6px;font-weight:400;color:#1e1f21;letter-spacing:0.40px;white-space:pre;-webkit-text-stroke:0.4px #1e1f21;">2 sets</div>
<div style="position:absolute;left:2481.4px;top:1575.0px;font-size:21.6px;line-height:21.6px;font-weight:400;color:#1e1f21;letter-spacing:0.05px;white-space:pre;-webkit-text-stroke:0.4px #1e1f21;">CFM</div>
<div style="position:absolute;left:2689.4px;top:1575.0px;font-size:21.6px;line-height:21.6px;font-weight:400;color:#1e1f21;letter-spacing:0.35px;white-space:pre;-webkit-text-stroke:0.4px #1e1f21;">Partial shipment delayed</div>
<div style="position:absolute;left:820.3px;top:1636.6px;font-size:25px;line-height:25px;font-weight:400;color:#6d6e6f;letter-spacing:0.02px;white-space:pre;-webkit-text-stroke:0.4px #6d6e6f;">Add task...</div>
<svg style="position:absolute;left:737px;top:1728.2px" width="18" height="11" viewBox="0 0 18 11"><path d="M1.2 0.8 L16.8 0.8 L9 9.2 Z" fill="#55565a" stroke="#55565a" stroke-width="1" stroke-linejoin="round"/></svg>
<div style="position:absolute;left:776.7px;top:1718.5px;font-size:29.5px;line-height:29.5px;font-weight:400;color:#1e1f21;letter-spacing:-0.11px;white-space:pre;-webkit-text-stroke:1.0px #1e1f21;">Delivery Blocked</div>
<div style="position:absolute;left:722.3px;top:1777.2px;width:2247.5px;height:63.0px;background:#e5eefd;border-radius:0px;"></div>
<div style="position:absolute;left:722.3px;top:1776.0px;width:2247.5px;height:2.0px;background:#d9dfec;border-radius:0px;"></div>
<div style="position:absolute;left:722.3px;top:1839.0px;width:2247.5px;height:2.0px;background:#d9dfec;border-radius:0px;"></div>
<div style="position:absolute;left:1423.0px;top:1777.2px;width:2.0px;height:63.0px;background:#d9dfec;border-radius:0px;"></div>
<div style="position:absolute;left:1632.0px;top:1777.2px;width:2.0px;height:63.0px;background:#d9dfec;border-radius:0px;"></div>
<div style="position:absolute;left:1840.0px;top:1777.2px;width:2.0px;height:63.0px;background:#d9dfec;border-radius:0px;"></div>
<div style="position:absolute;left:2049.0px;top:1777.2px;width:2.0px;height:63.0px;background:#d9dfec;border-radius:0px;"></div>
<div style="position:absolute;left:2257.0px;top:1777.2px;width:2.0px;height:63.0px;background:#d9dfec;border-radius:0px;"></div>
<div style="position:absolute;left:2466.0px;top:1777.2px;width:2.0px;height:63.0px;background:#d9dfec;border-radius:0px;"></div>
<div style="position:absolute;left:2674.0px;top:1777.2px;width:2.0px;height:63.0px;background:#d9dfec;border-radius:0px;"></div>
<svg style="position:absolute;left:773.0px;top:1794.7px" width="30.0" height="30.0" viewBox="-15.00 -15.00 30.00 30.00"><circle cx="0" cy="0" r="13.05" fill="#fff" stroke="#6d6e6f" stroke-width="1.9"/><path d="M-6.28 1.14 L-2.35 4.54 L5.68 -3.56" fill="none" stroke="#6d6e6f" stroke-width="2.09" stroke-linecap="round" stroke-linejoin="round"/></svg>
<div style="position:absolute;left:817.5px;top:1796.9px;font-size:24.2px;line-height:24.2px;font-weight:400;color:#1e1f21;letter-spacing:0.70px;white-space:pre;-webkit-text-stroke:0.4px #1e1f21;">Lowell Dentistry</div>
<div style="position:absolute;left:1440.2px;top:1799.0px;font-size:21.6px;line-height:21.6px;font-weight:400;color:#6d6e6f;letter-spacing:0.20px;white-space:pre;-webkit-text-stroke:0.4px #6d6e6f;">Apr 5</div>
<div style="position:absolute;left:1654.8px;top:1788.3px;width:66.0px;height:41.3px;background:#e190f5;border-radius:8px;"></div>
<div style="position:absolute;left:1661.8px;top:1796.6px;font-size:25.6px;line-height:25.6px;font-weight:400;color:#3b1246;letter-spacing:-0.07px;white-space:pre;-webkit-text-stroke:0.4px #3b1246;">High</div>
<div style="position:absolute;left:1863.5px;top:1788.3px;width:128.5px;height:41.3px;background:#58d0eb;border-radius:8px;"></div>
<div style="position:absolute;left:1871.5px;top:1796.6px;font-size:25.6px;line-height:25.6px;font-weight:400;color:#0b3641;letter-spacing:-0.19px;white-space:pre;-webkit-text-stroke:0.4px #0b3641;">Confirm...</div>
<div style="position:absolute;left:2063.8px;top:1799.0px;font-size:21.6px;line-height:21.6px;font-weight:400;color:#1e1f21;letter-spacing:0.35px;white-space:pre;-webkit-text-stroke:0.4px #1e1f21;">LVP</div>
<div style="position:absolute;left:2273.5px;top:1799.0px;font-size:21.6px;line-height:21.6px;font-weight:400;color:#1e1f21;letter-spacing:0.79px;white-space:pre;-webkit-text-stroke:0.4px #1e1f21;">900 sq ft</div>
<div style="position:absolute;left:2480.4px;top:1799.0px;font-size:21.6px;line-height:21.6px;font-weight:400;color:#1e1f21;letter-spacing:0.23px;white-space:pre;-webkit-text-stroke:0.4px #1e1f21;">NW Floor</div>
<div style="position:absolute;left:2691.4px;top:1799.0px;font-size:21.6px;line-height:21.6px;font-weight:400;color:#1e1f21;letter-spacing:0.27px;white-space:pre;-webkit-text-stroke:0.4px #1e1f21;">Waiting on color samples</div>
</body></html>
